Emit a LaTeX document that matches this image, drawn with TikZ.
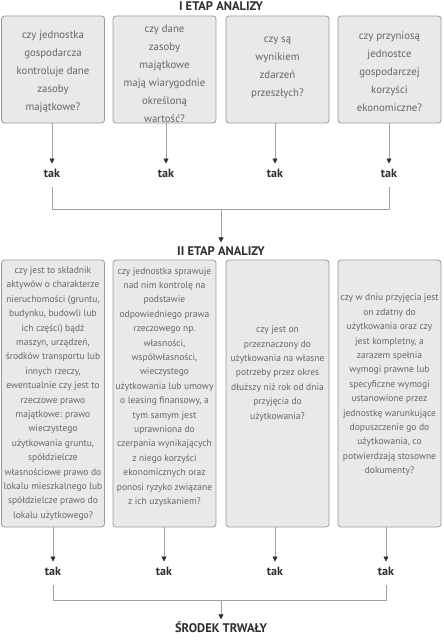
\documentclass[tikz,border=0pt]{standalone}
\usepackage{fontspec}
\setmainfont{PT Sans}
\usetikzlibrary{arrows.meta}
\definecolor{boxfill}{HTML}{E8E9EB}
\definecolor{boxline}{HTML}{9A9A9A}
\definecolor{qtxt}{HTML}{666666}
\definecolor{dark}{HTML}{2E2E2E}
\definecolor{conn}{HTML}{A0A0A0}
\tikzset{
  qbox/.style={draw=boxline, fill=boxfill, line width=0.8pt, rounded corners=3pt,
    minimum width=103pt, inner sep=0pt},
  qtop/.style={text=qtxt, align=center, font=\fontsize{10.8}{18}\selectfont, inner sep=0pt},
  qbot/.style={text=qtxt, align=center, font=\fontsize{9.5}{14.4}\selectfont, inner sep=0pt},
  yes/.style={text=dark, font=\fontsize{12}{13}\selectfont\bfseries, inner sep=0pt},
  ttl/.style={text=dark, font=\fontsize{12.5}{13}\selectfont\bfseries, inner sep=0pt},
  conline/.style={draw=conn, line width=0.8pt},
  arr/.style={conline, -{Triangle[width=5pt,length=5pt,color=dark]}}
}
\begin{document}
\begin{tikzpicture}[x=1pt,y=-1pt]
\useasboundingbox (0,0) rectangle (444,640);
% titles
\node[ttl] (t1) at (221,6) {I ETAP ANALIZY};
\node[ttl] (t2) at (221,251) {II ETAP ANALIZY};
\node[ttl] (t3) at (221,627) {ŚRODEK TRWAŁY};
% top boxes
\node[qbox, minimum height=107pt] (a1) at (53,69.5) {};
\node[qbox, minimum height=107pt] (a2) at (164.5,69.5) {};
\node[qbox, minimum height=107pt] (a3) at (277.5,69.5) {};
\node[qbox, minimum height=107pt] (a4) at (389.5,69.5) {};
\node[qtop] (qa1) at (53,72) {czy jednostka\\gospodarcza\\kontroluje dane\\zasoby\\majątkowe?};
\node[qtop] (qa2) at (164.5,74) {czy dane\\zasoby\\majątkowe\\mają wiarygodnie\\określoną\\wartość?};
\node[qtop] (qa3) at (277.5,68) {czy są\\wynikiem\\zdarzeń\\przeszłych?};
\node[qtop] (qa4) at (389.5,72) {czy przyniosą\\jednostce\\gospodarczej\\korzyści\\ekonomiczne?};
% tak top
\node[yes] (y1) at (52,173) {tak};
\node[yes] (y2) at (166,173) {tak};
\node[yes] (y3) at (275,173) {tak};
\node[yes] (y4) at (389,173) {tak};
\coordinate (c1) at (52,209);
\coordinate (c4) at (389,209);
\coordinate (cm) at (221,209);
\draw[arr, shorten >=5pt] (a1.south -| y1) -- (y1.north);
\draw[arr, shorten >=5pt] (a2.south -| y2) -- (y2.north);
\draw[arr, shorten >=5pt] (a3.south -| y3) -- (y3.north);
\draw[arr, shorten >=5pt] (a4.south -| y4) -- (y4.north);
\draw[conline, shorten <=10pt, shorten >=10pt] (y1.south) -- (c1) -- (c4) -- (y4.south);
\draw[arr, shorten >=4pt] (cm) -- (t2.north);
% bottom boxes
\node[qbox, minimum height=267pt] (b1) at (53,393.5) {};
\node[qbox, minimum height=267pt] (b2) at (164.5,393.5) {};
\node[qbox, minimum height=267pt] (b3) at (277.5,393.5) {};
\node[qbox, minimum height=267pt] (b4) at (389.5,393.5) {};
\node[qbot] (qb1) at (53,393.5) {czy jest to składnik\\aktywów o charakterze\\nieruchomości (gruntu,\\budynku, budowli lub\\ich części) bądź\\maszyn, urządzeń,\\środków transportu lub\\innych rzeczy,\\ewentualnie czy jest to\\rzeczowe prawo\\majątkowe: prawo\\wieczystego\\użytkowania gruntu,\\spółdzielcze\\własnościowe prawo do\\lokalu mieszkalnego lub\\spółdzielcze prawo do\\lokalu użytkowego?};
\node[qbot] (qb2) at (164.5,387) {czy jednostka sprawuje\\nad nim kontrolę na\\podstawie\\odpowiedniego prawa\\rzeczowego np.\\własności,\\współwłasności,\\wieczystego\\użytkowania lub umowy\\o leasing finansowy, a\\tym samym jest\\uprawniona do\\czerpania wynikających\\z niego korzyści\\ekonomicznych oraz\\ponosi ryzyko związane\\z ich uzyskaniem?};
\node[qbot] (qb3) at (277.5,373.5) {czy jest on\\przeznaczony do\\użytkowania na własne\\potrzeby przez okres\\dłuższy niż rok od dnia\\przyjęcia do\\użytkowania?};
\node[qbot] (qb4) at (389.5,385) {czy w dniu przyjęcia jest\\on zdatny do\\użytkowania oraz czy\\jest kompletny, a\\zarazem spełnia\\wymogi prawne lub\\specyficzne wymogi\\ustanowione przez\\jednostkę warunkujące\\dopuszczenie go do\\użytkowania, co\\potwierdzają stosowne\\dokumenty?};
% tak bottom
\node[yes] (z1) at (53,571) {tak};
\node[yes] (z2) at (164,571) {tak};
\node[yes] (z3) at (275,571) {tak};
\node[yes] (z4) at (386,571) {tak};
\coordinate (d1) at (53,600);
\coordinate (d4) at (386,600);
\coordinate (dm) at (221,600);
\draw[arr, shorten >=5pt] (b1.south -| z1) -- (z1.north);
\draw[arr, shorten >=5pt] (b2.south -| z2) -- (z2.north);
\draw[arr, shorten >=5pt] (b3.south -| z3) -- (z3.north);
\draw[arr, shorten >=5pt] (b4.south -| z4) -- (z4.north);
\draw[conline, shorten <=10pt, shorten >=10pt] (z1.south) -- (d1) -- (d4) -- (z4.south);
\draw[arr, shorten >=2pt] (dm) -- (t3.north);
\end{tikzpicture}
\end{document}
